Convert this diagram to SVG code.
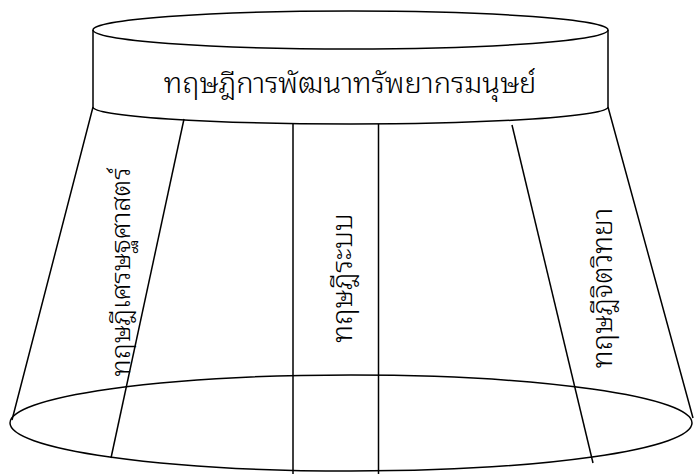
<svg xmlns="http://www.w3.org/2000/svg" width="694" height="474" viewBox="0 0 694 474">
<style>
.s{fill:none;stroke:#000;stroke-width:1.5}
.t{font-family:"Noto Sans Thai Looped","Noto Serif Thai","Loma","Garuda","Norasi","Tlwg Typo","Noto Sans Thai","Noto Sans",sans-serif;font-weight:300;fill:#000}
</style>
<rect width="694" height="474" fill="#fff"/>
<g id="base">
<ellipse class="s" cx="351" cy="423" rx="341" ry="48"/>
<path class="s" d="M93,107 L12,420 M608,107 L693,418"/>
</g>
<g id="top">
<ellipse class="s" cx="350.5" cy="30" rx="257.5" ry="19"/>
<path class="s" d="M93,30 V107 M608,30 V107 M93,107 A257.5,17 0 0 0 608,107"/>
<text class="t" x="350" y="93" font-size="29" text-anchor="middle">ทฤษฎีการพัฒนาทรัพยากรมนุษย์</text>
</g>
<g id="economics">
<path class="s" d="M184,119 L111,458"/>
<text class="t" transform="translate(130,272) rotate(-90)" font-size="27" text-anchor="middle">ทฤษฎีเศรษฐศาสตร์</text>
</g>
<g id="systems">
<path class="s" d="M293,124 V474 M378.5,124 V474"/>
<text class="t" transform="translate(352,278) rotate(-90)" font-size="28" text-anchor="middle">ทฤษฎีระบบ</text>
</g>
<g id="psychology">
<path class="s" d="M512,125 L593,463"/>
<text class="t" transform="translate(612,288) rotate(-90)" font-size="28" text-anchor="middle">ทฤษฎีจิตวิทยา</text>
</g>
</svg>
